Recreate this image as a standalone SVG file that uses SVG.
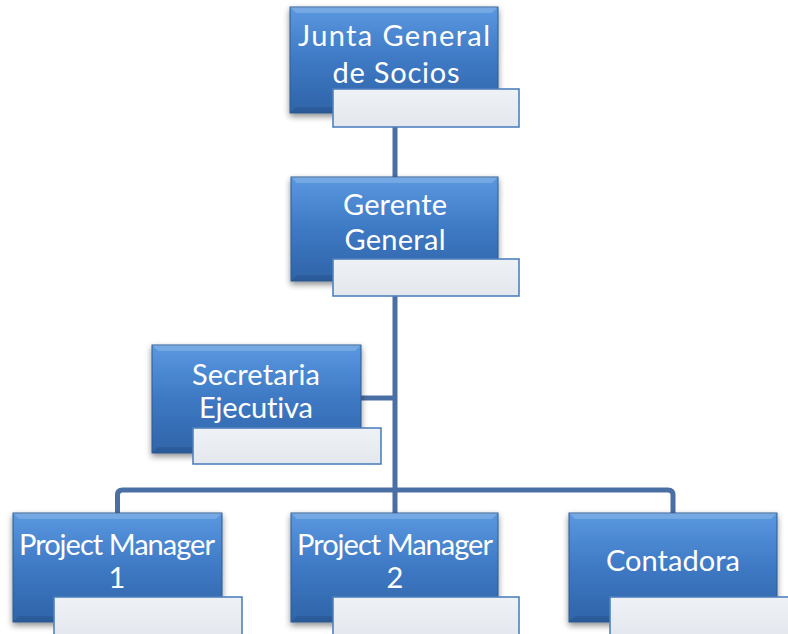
<svg xmlns="http://www.w3.org/2000/svg" width="788" height="634" viewBox="0 0 788 634">
<style>
.box{fill:url(#blue);stroke:#2c5a92;stroke-width:1}
.hl{fill:#ffffff;opacity:0.18}
.dk{fill:#1d406e;opacity:0.25}
.lbl{fill:url(#pale);stroke:#4f81bd;stroke-width:1.6}
.t{font-family:"Lato","Liberation Sans",sans-serif;font-size:29px;fill:#ffffff;text-anchor:middle;font-variant-ligatures:none}
.c{fill:none;stroke:#4a6fa5;stroke-width:5;stroke-linejoin:round}
</style>
<defs>
<linearGradient id="blue" x1="0" y1="0" x2="0" y2="1">
<stop offset="0" stop-color="#5a98e0"/>
<stop offset="0.5" stop-color="#3e79c4"/>
<stop offset="1" stop-color="#2f64a8"/>
</linearGradient>
<linearGradient id="pale" x1="0" y1="0" x2="0" y2="1">
<stop offset="0" stop-color="#eef1f5"/>
<stop offset="1" stop-color="#e4e8ee"/>
</linearGradient>
<filter id="sh" x="-10%" y="-10%" width="120%" height="130%">
<feDropShadow dx="0" dy="3" stdDeviation="3" flood-color="#000" flood-opacity="0.45"/>
</filter>
</defs>
<g id="connectors">
<path class="c" d="M395,127 V178"/>
<path class="c" d="M395,296 V513"/>
<path class="c" d="M361,398 H395"/>
<path class="c" d="M117.5,513 V495 Q117.5,490 122.5,490 H668 Q673,490 673,495 V513"/>
</g>
<g id="junta">
<rect class="box" x="290" y="7" width="208" height="106" filter="url(#sh)"/>
<polygon class="hl" points="290,7 498,7 492,13 296,13"/>
<polygon class="dk" points="290,113 498,113 492,107 296,107"/>
<text class="t" x="394" y="46" textLength="192" lengthAdjust="spacing">Junta General</text>
<text class="t" x="396" y="83" textLength="127" lengthAdjust="spacing">de Socios</text>
<rect class="lbl" x="333" y="89" width="186" height="38"/>
</g>
<g id="gerente">
<rect class="box" x="291" y="177" width="207" height="104" filter="url(#sh)"/>
<polygon class="hl" points="291,177 498,177 492,183 297,183"/>
<polygon class="dk" points="291,281 498,281 492,275 297,275"/>
<text class="t" x="395" y="215" textLength="104" lengthAdjust="spacing">Gerente</text>
<text class="t" x="395" y="250" textLength="101" lengthAdjust="spacing">General</text>
<rect class="lbl" x="333" y="259" width="186" height="37"/>
</g>
<g id="secretaria">
<rect class="box" x="152" y="345" width="209" height="108" filter="url(#sh)"/>
<polygon class="hl" points="152,345 361,345 355,351 158,351"/>
<polygon class="dk" points="152,453 361,453 355,447 158,447"/>
<text class="t" x="256" y="385" textLength="128" lengthAdjust="spacing">Secretaria</text>
<text class="t" x="256" y="418" textLength="114" lengthAdjust="spacing">Ejecutiva</text>
<rect class="lbl" x="193" y="428" width="188" height="36"/>
</g>
<g id="pm1">
<rect class="box" x="13" y="513" width="209" height="109" filter="url(#sh)"/>
<polygon class="hl" points="13,513 222,513 216,519 19,519"/>
<polygon class="dk" points="13,622 222,622 216,616 19,616"/>
<text class="t" x="117" y="555" textLength="196" lengthAdjust="spacing">Project Manager</text>
<text class="t" x="117" y="588">1</text>
<rect class="lbl" x="54" y="597" width="188" height="40"/>
</g>
<g id="pm2">
<rect class="box" x="291" y="513" width="207" height="109" filter="url(#sh)"/>
<polygon class="hl" points="291,513 498,513 492,519 297,519"/>
<polygon class="dk" points="291,622 498,622 492,616 297,616"/>
<text class="t" x="395" y="555" textLength="196" lengthAdjust="spacing">Project Manager</text>
<text class="t" x="395" y="588">2</text>
<rect class="lbl" x="333" y="597" width="186" height="40"/>
</g>
<g id="contadora">
<rect class="box" x="569" y="513" width="208" height="109" filter="url(#sh)"/>
<polygon class="hl" points="569,513 777,513 771,519 575,519"/>
<polygon class="dk" points="569,622 777,622 771,616 575,616"/>
<text class="t" x="673" y="571" textLength="134" lengthAdjust="spacing">Contadora</text>
<rect class="lbl" x="610" y="597" width="186" height="40"/>
</g>
</svg>
